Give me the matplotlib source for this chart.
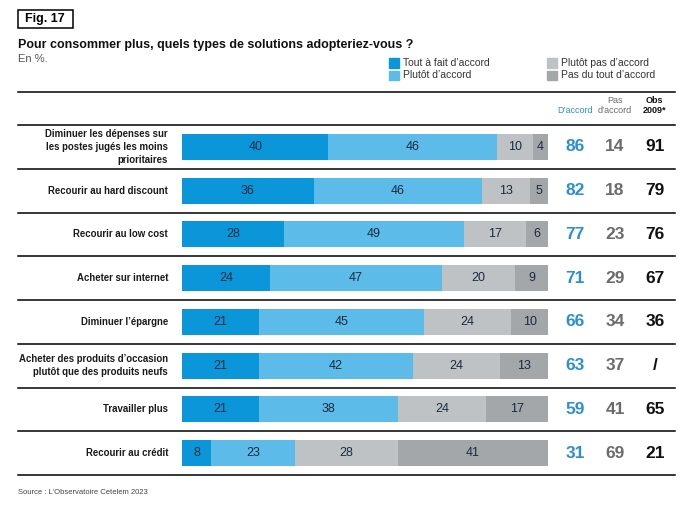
import numpy as np
import matplotlib
matplotlib.use('Agg')
import matplotlib.pyplot as plt
from matplotlib.patches import Rectangle

plt.rcParams['font.family'] = ['Liberation Sans Narrow', 'Liberation Sans', 'DejaVu Sans']

# Data
categories = [
    "Diminuer les dépenses sur\nles postes jugés les moins\nprioritaires",
    "Recourir au hard discount",
    "Recourir au low cost",
    "Acheter sur internet",
    "Diminuer l’épargne",
    "Acheter des produits d’occasion\nplutôt que des produits neufs",
    "Travailler plus",
    "Recourir au crédit",
]
tout_a_fait = [40, 36, 28, 24, 21, 21, 21, 8]
plutot = [46, 46, 49, 47, 45, 42, 38, 23]
plutot_pas = [10, 13, 17, 20, 24, 24, 24, 28]
pas_du_tout = [4, 5, 6, 9, 10, 13, 17, 41]
d_accord = [86, 82, 77, 71, 66, 63, 59, 31]
pas_accord = [14, 18, 23, 29, 34, 37, 41, 69]
obs_2009 = ['91', '79', '76', '67', '36', '/', '65', '21']

series_names = ['Tout à fait d’accord', 'Plutôt d’accord', 'Plutôt pas d’accord', 'Pas du tout d’accord']
colors = ['#0a96d8', '#5dbbea', '#bfc2c5', '#a4a7aa']
text_col = '#1b2a3c'

W, H = 696, 505
fig = plt.figure(figsize=(W / 100, H / 100), dpi=100)

# bar area: x 182..548 px, y 125..475 px
ax = fig.add_axes([182 / W, 1 - 475 / H, 366 / W, 350 / H])
ax.set_xlim(0, 100)
ax.set_ylim(len(categories) - 0.5, -0.5)
ax.axis('off')

y = np.arange(len(categories))
left = np.zeros(len(categories))
for vals, col in zip([tout_a_fait, plutot, plutot_pas, pas_du_tout], colors):
    vals = np.array(vals)
    ax.barh(y, vals, left=left, height=0.59, color=col, edgecolor='none')
    for yi, l, v in zip(y, left, vals):
        ax.text(l + v / 2, yi, str(v), ha='center', va='center', fontsize=9,
                color=text_col)
    left = left + vals

# row separators spanning the full width
x0 = (18 - 182) / 366
x1 = (675 - 182) / 366
for i in range(len(categories) + 1):
    ax.axhline(i - 0.5, xmin=x0, xmax=x1, color='black', lw=1.1, clip_on=False)
ax.axhline(-1.25, xmin=x0, xmax=x1, color='black', lw=1.1, clip_on=False)

# row labels
for yi, c in zip(y, categories):
    ax.text(-3.8, yi, c, ha='right', va='center', fontsize=6.9, fontweight='bold',
            color='#1a1a1a', linespacing=1.35)

# right-hand columns
col_x = [107.4, 118.3, 129.2]
col_colors = ['#2d8fd2', '#6b6b6b', '#111111']
for yi in y:
    for cx, vals, cc in zip(col_x, [d_accord, pas_accord, obs_2009], col_colors):
        ax.text(cx, yi, str(vals[yi]), ha='center', va='center', fontsize=12.5,
                fontweight='bold', color=cc)

# column headers
ax.text(col_x[0], -0.84, 'D’accord', ha='center', va='center', fontsize=6.5, color='#2d8fd2')
ax.text(col_x[1], -1.05, 'Pas', ha='center', va='center', fontsize=6.5, color='#6b6b6b')
ax.text(col_x[1], -0.84, 'd’accord', ha='center', va='center', fontsize=6.5, color='#6b6b6b')
ax.text(col_x[2], -1.05, 'Obs', ha='center', va='center', fontsize=6.5, color='#111111', fontweight='bold')
ax.text(col_x[2], -0.84, '2009*', ha='center', va='center', fontsize=6.5, color='#111111', fontweight='bold')

# figure box, title, subtitle
fig.patches.append(Rectangle((18 / W, 1 - 28 / H), 55 / W, 18 / H, transform=fig.transFigure,
                             fill=False, edgecolor='black', lw=1.1))
fig.text(25 / W, 1 - 19 / H, 'Fig. 17', ha='left', va='center', fontsize=9, fontweight='bold')
fig.text(18 / W, 1 - 45 / H, 'Pour consommer plus, quels types de solutions adopteriez-vous ?',
         ha='left', va='center', fontsize=9, fontweight='bold', color='#111111')
fig.text(18 / W, 1 - 59 / H, 'En %.', ha='left', va='center', fontsize=8, color='#555555')

# legend
leg_pos = [(389, 63), (389, 75), (547, 63), (547, 75)]
for (lx, ly), name, col in zip(leg_pos, series_names, colors):
    fig.patches.append(Rectangle((lx / W, 1 - (ly + 4.5) / H), 10 / W, 9 / H,
                                 transform=fig.transFigure, color=col))
    fig.text((lx + 14) / W, 1 - ly / H, name, ha='left', va='center', fontsize=7.5, color='#333333')

fig.text(18 / W, 1 - 493 / H, 'Source : L’Observatoire Cetelem 2023', ha='left', va='center',
         fontsize=5.5, color='#444444')

fig.savefig('out.png', dpi=100, facecolor='white')
